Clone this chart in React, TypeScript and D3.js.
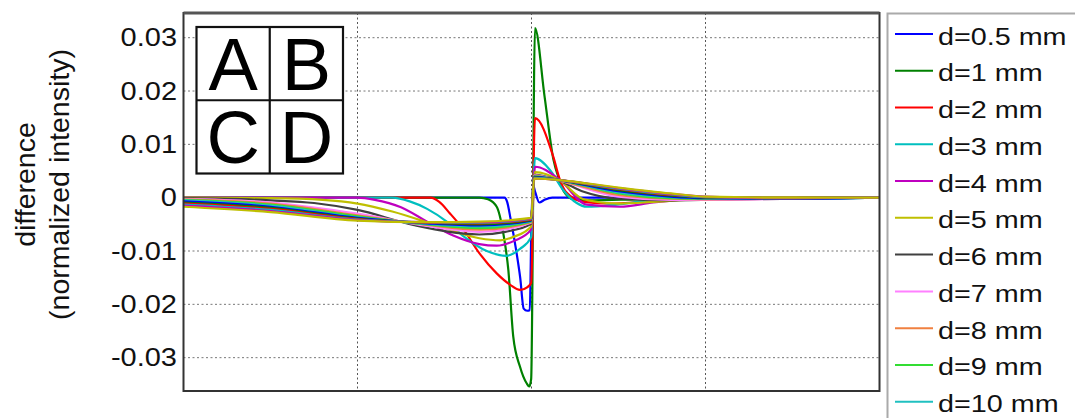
import React from "react";
import * as d3 from "d3";

// ---------- data ----------
const Y_TICKS = [-0.03, -0.02, -0.01, 0, 0.01, 0.02, 0.03];
const Y_TICK_LABELS = ["-0.03", "-0.02", "-0.01", "0", "0.01", "0.02", "0.03"];
const X_GRID = [1, 2, 3];
const PANEL_LABELS = ["A", "B", "C", "D"];
const Y_TITLE = ["difference", "(normalized intensity)"];

const LABELS = [
  "d=0.5 mm", "d=1 mm", "d=2 mm", "d=3 mm", "d=4 mm", "d=5 mm", "d=6 mm",
  "d=7 mm", "d=8 mm", "d=9 mm", "d=10 mm", "d=11 mm", "d=12 mm", "d=13 mm",
  "d=14 mm", "d=15 mm", "d=16 mm",
];
const COLORS = [
  "#0000ff", "#008000", "#ff0000", "#00bfbf", "#bf00bf", "#bfbf00", "#404040",
  "#ff80ff", "#f08040", "#33dd33", "#20c0c0", "#0000ff", "#008000", "#ff0000",
  "#00bfbf", "#bf00bf", "#bfbf00",
];

type P = [number, number];

const d05: P[] = [[0, 0], [1.845, 0], [1.86, -0.0008], [1.88, -0.004], [1.91, -0.0095], [1.935, -0.015], [1.955, -0.0208], [1.975, -0.0212], [1.99, -0.0211], [2.0, -0.004], [2.01, 0.0022], [2.022, 0.0010], [2.045, -0.0009], [2.075, -0.0004], [2.12, 0], [4, 0]];
const d1: P[] = [[0, 0], [1.70, 0], [1.75, -0.0003], [1.80, -0.0017], [1.838, -0.0067], [1.867, -0.0136], [1.895, -0.026], [1.934, -0.0317], [1.972, -0.0348], [1.987, -0.0354], [1.998, -0.034], [2.02, 0.0318], [2.075, 0.019], [2.125, 0.0073], [2.16, 0.0033], [2.185, 0.0012], [2.24, -0.0003], [2.35, -0.0005], [2.6, -0.0003], [3.0, 0], [4, 0]];
const d2: P[] = [[0, 0], [1.42, 0], [1.47, -0.0008], [1.53, -0.0029], [1.61, -0.006], [1.70, -0.0104], [1.80, -0.0142], [1.876, -0.0163], [1.934, -0.0173], [1.975, -0.0168], [1.998, -0.016], [2.02, 0.0149], [2.125, 0.0077], [2.164, 0.0033], [2.2, 0.001], [2.3, -0.0008], [2.45, -0.0011], [2.7, -0.0006], [3.0, -0.0001], [3.5, 0], [4, 0]];
const d3s: P[] = [[0, 0], [1.2, 0], [1.3, -0.0007], [1.4, -0.0021], [1.513, -0.0045], [1.608, -0.0072], [1.743, -0.0100], [1.857, -0.0109], [1.934, -0.0096], [1.998, -0.0074], [2.02, 0.0074], [2.106, 0.0052], [2.183, 0.0014], [2.26, -0.001], [2.317, -0.0017], [2.47, -0.0014], [2.7, -0.0004], [3.0, 0], [4, 0]];
const d4: P[] = [[0, 0], [1.0, 0], [1.1, -0.0004], [1.25, -0.0018], [1.4, -0.0045], [1.55, -0.0071], [1.7, -0.0087], [1.8, -0.0090], [1.9, -0.0081], [1.998, -0.006], [2.02, 0.0058], [2.164, 0.0033], [2.317, -0.0013], [2.509, -0.0017], [2.70, -0.0009], [3.1, 0], [4, 0]];
const d5: P[] = [[0, 0], [0.5, -0.0001], [0.8, -0.0004], [1.0, -0.0011], [1.2, -0.0026], [1.5, -0.0057], [1.7, -0.0076], [1.82, -0.0080], [1.9, -0.0073], [1.998, -0.0054], [2.02, 0.0048], [2.164, 0.0032], [2.3, -0.0003], [2.5, -0.0011], [2.7, -0.0008], [3.0, -0.0002], [3.3, 0], [4, 0]];
const d6: P[] = [[0, -0.0001], [0.5, -0.0005], [0.75, -0.001], [1.0, -0.0023], [1.32, -0.0051], [1.7, -0.0069], [1.85, -0.0064], [1.998, -0.0049], [2.015, 0.0043], [2.16, 0.0032], [2.3, 0.0011], [2.5, -0.0002], [2.8, -0.0005], [3.2, -0.0003], [4, 0]];

const X_BUNDLE = [0, 0.5, 1.0, 1.4, 1.7, 1.998, 2.015, 2.16, 2.5, 2.8, 3.0, 3.5, 4.0];
const d7 = [-0.0002, -0.0009, -0.0030, -0.0053, -0.0064, -0.0047, 0.0042, 0.0032, 0.0002, -0.0004, -0.0004, -0.0002, 0];
const d8 = [-0.0003, -0.0011, -0.0033, -0.0051, -0.0060, -0.0046, 0.0041, 0.0032, 0.0005, -0.0002, -0.0003, -0.0002, 0];
const d9 = [-0.0004, -0.0013, -0.0035, -0.0050, -0.0057, -0.0045, 0.0040, 0.0033, 0.0008, -0.0001, -0.0002, -0.0002, 0];
const d10 = [-0.0005, -0.0015, -0.0037, -0.0049, -0.0054, -0.0044, 0.0039, 0.0033, 0.0010, 0.0001, -0.0001, -0.0002, 0];
const d11 = [-0.0007, -0.0017, -0.0038, -0.0048, -0.0052, -0.0043, 0.0039, 0.0033, 0.0012, 0.0002, -0.0001, -0.0002, 0];
const d12 = [-0.0009, -0.0019, -0.0039, -0.0047, -0.0050, -0.0042, 0.0038, 0.0033, 0.0014, 0.0004, 0.0000, -0.0001, 0];
const d13 = [-0.0011, -0.0021, -0.0040, -0.0047, -0.0048, -0.0041, 0.0037, 0.0033, 0.0016, 0.0005, 0.0001, -0.0001, 0];
const d14 = [-0.0013, -0.0023, -0.0041, -0.0046, -0.0047, -0.0040, 0.0037, 0.0033, 0.0017, 0.0006, 0.0001, -0.0001, 0];
const d15 = [-0.0015, -0.0025, -0.0042, -0.0046, -0.0046, -0.0039, 0.0036, 0.0033, 0.0018, 0.0007, 0.0002, -0.0001, 0];
const d16 = [-0.0017, -0.0027, -0.0043, -0.0046, -0.0045, -0.0038, 0.0036, 0.0033, 0.0019, 0.0008, 0.0002, 0.0000, 0];

const bundle = (ys: number[]): P[] => X_BUNDLE.map((x, i) => [x, ys[i]] as P);

const SERIES: P[][] = [
  d05, d1, d2, d3s, d4, d5, d6,
  bundle(d7), bundle(d8), bundle(d9), bundle(d10), bundle(d11), bundle(d12),
  bundle(d13), bundle(d14), bundle(d15), bundle(d16),
];

// ---------- layout ----------
const W = 1075;
const H = 418;
const PL = 183.5, PR = 879.5, PT = 13, PB = 391;
const FONT = "'Liberation Sans', Arial, Helvetica, sans-serif";
const LEGEND_ROWS_VISIBLE = 11;

export default function App() {
  const x = d3.scaleLinear().domain([0, 4]).range([PL, PR]);
  const y = d3.scaleLinear().domain([-0.03625, 0.03463]).range([PB, PT]);
  const line = d3
    .line<P>()
    .x((d) => x(d[0]))
    .y((d) => y(d[1]))
    .curve(d3.curveMonotoneX);

  const bx0 = 196.5, by0 = 27, cell = 73.25;

  return (
    <svg
      width={W}
      height={H}
      style={{ position: "absolute", left: 0, top: 0, display: "block", background: "#fff" }}
      fontFamily={FONT}
    >
      <defs>
        <clipPath id="plotclip">
          <rect x={PL} y={PT} width={PR - PL} height={PB - PT} />
        </clipPath>
      </defs>
      <rect x={0} y={0} width={W} height={H} fill="#fff" />

      {Y_TICKS.map((t, i) => (
        <line key={"gy" + i} x1={PL} x2={PR} y1={y(t)} y2={y(t)} stroke="#777" strokeWidth={1} strokeDasharray="2 2.5" />
      ))}
      {X_GRID.map((t, i) => (
        <line key={"gx" + i} x1={x(t)} x2={x(t)} y1={PT} y2={PB} stroke="#555" strokeWidth={1} strokeDasharray="2 2.5" />
      ))}

      <g>
        <rect x={bx0} y={by0} width={cell * 2} height={cell * 2} fill="#fff" stroke="#111" strokeWidth={2.2} />
        <line x1={bx0 + cell} x2={bx0 + cell} y1={by0} y2={by0 + 2 * cell} stroke="#111" strokeWidth={2.2} />
        <line x1={bx0} x2={bx0 + 2 * cell} y1={by0 + cell} y2={by0 + cell} stroke="#111" strokeWidth={2.2} />
        {PANEL_LABELS.map((lab, i) => {
          const cx = bx0 + cell * (i % 2) + cell / 2;
          const cy = by0 + cell * Math.floor(i / 2) + 62.5;
          return (
            <text key={lab} x={cx} y={cy} fontSize={74} textAnchor="middle" fill="#000">
              {lab}
            </text>
          );
        })}
      </g>

      <g clipPath="url(#plotclip)">
        {SERIES.map((s, i) => (
          <path key={"s" + i} d={line(s) || ""} fill="none" stroke={COLORS[i]} strokeWidth={2.2} strokeLinejoin="round" />
        ))}
      </g>

      <rect x={PL} y={PT} width={PR - PL} height={PB - PT} fill="none" stroke="#333" strokeWidth={2} />
      <line x1={PL} x2={PR} y1={PT} y2={PT} stroke="#555" strokeWidth={3} />

      {Y_TICKS.map((t, i) => (
        <text
          key={"yl" + i}
          transform={`translate(177,${y(t) + 8.5}) scale(1.16,1)`}
          fontSize={25}
          textAnchor="end"
          fill="#111"
        >
          {Y_TICK_LABELS[i]}
        </text>
      ))}

      <text transform={`translate(35,184.5) rotate(-90)`} fontSize={28.5} textAnchor="middle" fill="#111">
        {Y_TITLE[0]}
      </text>
      <text transform={`translate(69,184.5) rotate(-90)`} fontSize={28.5} textAnchor="middle" fill="#111">
        {Y_TITLE[1]}
      </text>

      <rect x={887.5} y={13.5} width={400} height={600} fill="#fff" stroke="#aaa" strokeWidth={2} />
      {LABELS.slice(0, LEGEND_ROWS_VISIBLE).map((lab, i) => {
        const ry = 34 + i * 36.77;
        return (
          <g key={"lg" + i}>
            <line x1={895} x2={933} y1={ry} y2={ry} stroke={COLORS[i]} strokeWidth={2} />
            <text transform={`translate(938,${ry + 10.5}) scale(1.25,1)`} fontSize={23} fill="#111">
              {lab}
            </text>
          </g>
        );
      })}
    </svg>
  );
}
